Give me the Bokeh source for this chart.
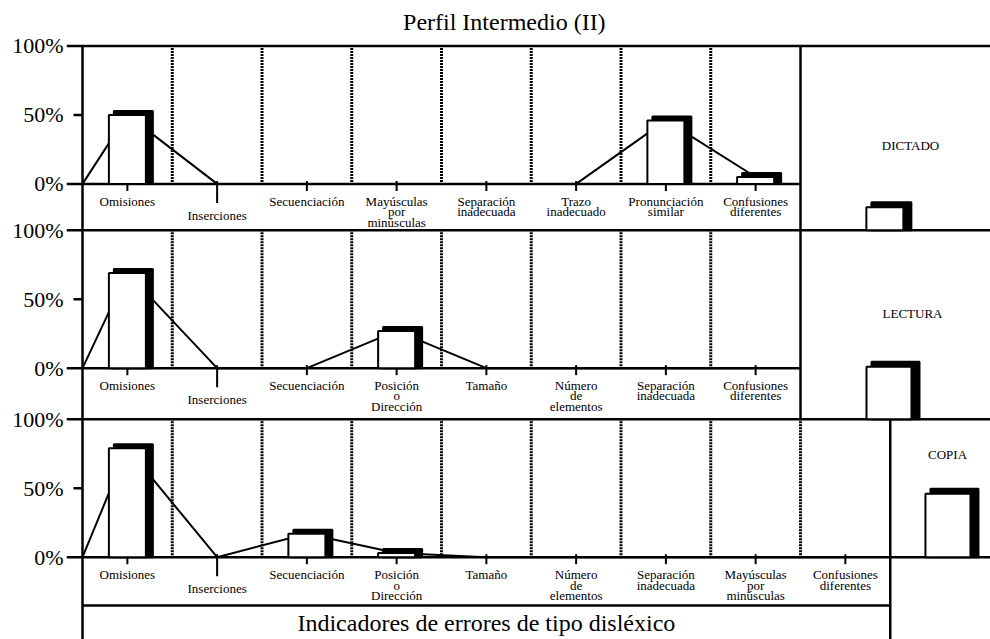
from bokeh.plotting import figure
from bokeh.models import Range1d, FixedTicker
from bokeh.embed import file_html
from bokeh.resources import INLINE
from bokeh.core.properties import value

# ---------------- data ----------------
title_text = "Perfil Intermedio (II)"
x_title = "Indicadores de errores de tipo disléxico"

dictado_cats = ["Omisiones", "Inserciones", "Secuenciación", "Mayúsculas\npor\nminúsculas",
                "Separación\ninadecuada", "Trazo\ninadecuado", "Pronunciación\nsimilar",
                "Confusiones\ndiferentes"]
dictado_vals = [50, 0, 0, 0, 0, 0, 46, 5]

lectura_cats = ["Omisiones", "Inserciones", "Secuenciación", "Posición\no\nDirección",
                "Tamaño", "Número\nde\nelementos", "Separación\ninadecuada",
                "Confusiones\ndiferentes"]
lectura_vals = [69, 0, 0, 27, 0, 0, 0, 0]

copia_cats = ["Omisiones", "Inserciones", "Secuenciación", "Posición\no\nDirección",
              "Tamaño", "Número\nde\nelementos", "Separación\ninadecuada",
              "Mayúsculas\npor\nminúsculas", "Confusiones\ndiferentes"]
copia_vals = [79, 0, 17, 3, 0, 0, 0, 0, 0]

panel_names = ["DICTADO", "LECTURA", "COPIA"]
panel_totals = [16.5, 38, 46]
y_tick_values = [0, 50, 100]
y_tick_labels = ["0%", "50%", "100%"]

# ---------------- layout ----------------
W, H = 990, 639
BL = 66                      # left border (axis labels)
PXX = 89.75                  # px per category
PXY = 1.38                   # px per percent
X0 = -16 / PXX
X1 = X0 + (W - BL) / PXX
Y1 = 556.7 / PXY
Y0 = Y1 - H / PXY
BASES = [270.5, 137.0, 0.0]
FONT = value("Liberation Serif")
LW = 2.5

panels = [(dictado_cats, dictado_vals), (lectura_cats, lectura_vals), (copia_cats, copia_vals)]

p = figure(width=W, height=H, x_range=Range1d(X0, X1), y_range=Range1d(Y0, Y1),
           output_backend="svg", toolbar_location=None, x_axis_location=None,
           min_border_left=BL, min_border_right=0, min_border_top=0, min_border_bottom=0)
p.xgrid.visible = False
p.ygrid.visible = False
p.outline_line_color = None

ticks = [b + t for b in BASES for t in y_tick_values]
p.yaxis.ticker = FixedTicker(ticks=ticks, minor_ticks=[])
p.yaxis.major_label_overrides = {float(b + t): lab for b in BASES
                                 for t, lab in zip(y_tick_values, y_tick_labels)}
p.yaxis.axis_line_color = None
p.yaxis.major_tick_line_color = None
p.yaxis.minor_tick_line_color = None
p.yaxis.major_tick_out = 0
p.yaxis.major_tick_in = 0
p.yaxis.major_label_standoff = 3
p.yaxis.major_label_text_font = "Liberation Serif"
p.yaxis.major_label_text_font_size = "22px"
p.yaxis.major_label_text_color = "black"

# ---------------- frame lines ----------------
hx0, hx1, hy = [], [], []
for b in BASES:
    hx0.append(X0); hx1.append(X1); hy.append(b + 100)
hx0 += [X0, X0, X0]; hx1 += [8, 8, X1]; hy += [BASES[0], BASES[1], BASES[2]]
hx0.append(0); hx1.append(9); hy.append(-35)
p.segment(x0=hx0, x1=hx1, y0=hy, y1=hy, line_color="black", line_width=LW)

p.segment(x0=[0, 8, 9], x1=[0, 8, 9], y0=[BASES[0] + 100, BASES[0] + 100, BASES[2] + 100],
          y1=[Y0, BASES[2] + 100, Y0], line_color="black", line_width=LW)
p.segment(x0=[-9 / PXX] * 3, x1=[0] * 3, y0=[b + 50 for b in BASES], y1=[b + 50 for b in BASES],
          line_color="black", line_width=LW)

# dotted separators
dx, dy0, dy1 = [], [], []
for (cats, vals), b in zip(panels, BASES):
    for k in range(1, len(cats)):
        dx.append(k); dy0.append(b + 2 / PXY); dy1.append(b + 100)
p.segment(x0=dx, x1=dx, y0=dy0, y1=dy1, line_color="black", line_width=3, line_dash="2 1")

# category ticks and labels
tx, ty0, ty1 = [], [], []
lx, ly, lt = [], [], []
for (cats, vals), b in zip(panels, BASES):
    for i, c in enumerate(cats):
        cx = i + 0.5
        tx.append(cx)
        ty0.append(b + 3 / PXY)
        ty1.append(b - (19 if i == 1 else 7) / PXY)
        first = 31.5 if i == 1 else 17.5
        for k, line in enumerate(c.split("\n")):
            lx.append(cx); ly.append(b - (first + 10.3 * k) / PXY); lt.append(line)
p.segment(x0=tx, x1=tx, y0=ty0, y1=ty1, line_color="black", line_width=2)
p.text(x=lx, y=ly, text=lt, text_font=FONT, text_font_size="13px", text_color="black",
       text_align="center", text_baseline="middle")

# profile lines
for (cats, vals), b in zip(panels, BASES):
    xs = [0] + [i + 0.5 for i in range(len(cats))]
    ys = [b] + [b + v for v in vals]
    p.line(xs, ys, line_color="black", line_width=2)

# bars (shadow + white face)
BW = 37 / PXX
sl, sr, st, sb = [], [], [], []
wl, wr, wt, wb = [], [], [], []
for (cats, vals), b in zip(panels, BASES):
    for i, v in enumerate(vals):
        if v <= 0:
            continue
        cx = i + 0.5
        wl.append(cx - BW / 2); wr.append(cx + BW / 2); wt.append(b + v); wb.append(b)
        sl.append(cx - BW / 2 + 5 / PXX); sr.append(cx + BW / 2 + 7 / PXX)
        st.append(b + v + 4 / PXY); sb.append(b)

tot_base = [BASES[1] + 100, BASES[2] + 100, BASES[2]]
tot_cx = [8.94, 8.986, 9.643]
tot_w = [37 / PXX, 45 / PXX, 45 / PXX]
for v, b, cx, w in zip(panel_totals, tot_base, tot_cx, tot_w):
    wl.append(cx - w / 2); wr.append(cx + w / 2); wt.append(b + v); wb.append(b)
    sl.append(cx - w / 2 + 5 / PXX); sr.append(cx + w / 2 + 8 / PXX)
    st.append(b + v + 5 / PXY); sb.append(b)

p.quad(left=sl, right=sr, top=st, bottom=sb, fill_color="black", line_color="black", line_width=2)
p.quad(left=wl, right=wr, top=wt, bottom=wb, fill_color="white", line_color="black", line_width=2)

# panel names
p.text(x=[9.226, 9.248, 9.638], y=[298.3, 176.6, 74.4], text=panel_names, text_font=FONT,
       text_font_size="13px", text_color="black", text_align="center", text_baseline="middle")

# title and x title
p.text(x=[4.70], y=[387.5], text=[title_text], text_font=FONT, text_font_size="24px",
       text_color="black", text_align="center", text_baseline="middle")
p.text(x=[4.5], y=[-47.4], text=[x_title], text_font=FONT, text_font_size="24px",
       text_color="black", text_align="center", text_baseline="middle")

open("out.html", "w").write(file_html(p, INLINE))
